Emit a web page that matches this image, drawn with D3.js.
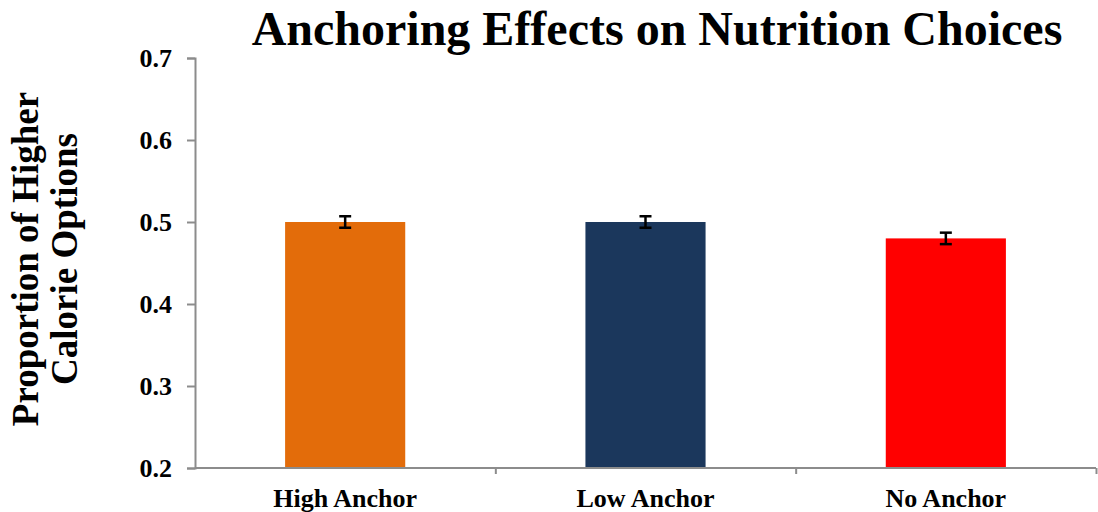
<!DOCTYPE html>
<html>
<head>
<meta charset="UTF-8" />
<script src="https://d3js.org/d3.v7.min.js"></script>
<style>
  body { margin: 0; background: #fff; }
  svg { font-family: "Liberation Serif", "Times New Roman", serif; }
  .tick text { font-family: "Liberation Serif", "Times New Roman", serif; font-size: 26px; font-weight: bold; fill: #000; }
  .axis path, .axis line { stroke: #8c8c8c; stroke-width: 2px; }
</style>
</head>
<body>
<svg width="1098" height="512"></svg>
<script>
  const categories = ["High Anchor", "Low Anchor", "No Anchor"];
  const values = [0.50, 0.50, 0.48];
  const errors = [0.007, 0.007, 0.007];
  const colors = ["#e36c0a", "#1b375c", "#ff0000"];
  const yTicks = [0.2, 0.3, 0.4, 0.5, 0.6, 0.7];

  const svg = d3.select("svg"),
        margin = {top: 58, right: 2, bottom: 44, left: 195},
        width = +svg.attr("width") - margin.left - margin.right,
        height = +svg.attr("height") - margin.top - margin.bottom;

  const g = svg.append("g").attr("transform", `translate(${margin.left},${margin.top})`);

  const x = d3.scaleBand().domain(categories).range([0, width]).paddingInner(0.6).paddingOuter(0.3);
  const y = d3.scaleLinear().domain([0.2, 0.7]).range([height, 0]);

  // bars
  g.selectAll(".bar")
    .data(categories)
    .enter().append("rect")
    .attr("x", d => x(d))
    .attr("width", x.bandwidth())
    .attr("y", (d, i) => y(values[i]))
    .attr("height", (d, i) => height - y(values[i]))
    .attr("fill", (d, i) => colors[i]);

  // y axis
  g.append("g").attr("class", "axis")
    .call(d3.axisLeft(y).tickValues(yTicks).tickFormat(d3.format(".1f")).tickSize(8).tickPadding(15));

  // x axis, ticks between categories
  const step = width / categories.length;
  const xb = d3.scaleLinear().domain([0, categories.length]).range([0, width]);
  const xAxis = g.append("g").attr("class", "axis")
    .attr("transform", `translate(0,${height})`)
    .call(d3.axisBottom(xb).tickValues(d3.range(1, categories.length + 1)).tickSize(6).tickFormat(""));
  xAxis.select(".domain").attr("d", `M0,0H${width}`);

  // error bars
  const eb = g.selectAll(".err").data(categories).enter().append("g")
    .attr("stroke", "#000").attr("stroke-width", 2.5);
  eb.append("line")
    .attr("x1", d => x(d) + x.bandwidth() / 2).attr("x2", d => x(d) + x.bandwidth() / 2)
    .attr("y1", (d, i) => y(values[i] + errors[i])).attr("y2", (d, i) => y(values[i] - errors[i]));
  eb.append("line")
    .attr("x1", d => x(d) + x.bandwidth() / 2 - 6).attr("x2", d => x(d) + x.bandwidth() / 2 + 6)
    .attr("y1", (d, i) => y(values[i] + errors[i])).attr("y2", (d, i) => y(values[i] + errors[i]));
  eb.append("line")
    .attr("x1", d => x(d) + x.bandwidth() / 2 - 6).attr("x2", d => x(d) + x.bandwidth() / 2 + 6)
    .attr("y1", (d, i) => y(values[i] - errors[i])).attr("y2", (d, i) => y(values[i] - errors[i]));

  // category labels
  g.selectAll(".cat").data(categories).enter().append("text")
    .attr("x", (d, i) => step * i + step / 2)
    .attr("y", height + 39)
    .attr("text-anchor", "middle")
    .style("font-size", "26px").style("font-weight", "bold")
    .text(d => d);

  // title
  svg.append("text")
    .attr("x", 657).attr("y", 45)
    .attr("text-anchor", "middle")
    .style("font-size", "48px").style("font-weight", "bold")
    .text("Anchoring Effects on Nutrition Choices");

  // y axis title
  const yt = svg.append("text")
    .attr("transform", `translate(0,259) rotate(-90)`)
    .attr("text-anchor", "middle")
    .style("font-size", "37px").style("font-weight", "bold");
  yt.append("tspan").attr("x", 0).attr("y", 38).text("Proportion of Higher");
  yt.append("tspan").attr("x", 0).attr("y", 77).text("Calorie Options");
</script>
</body>
</html>
